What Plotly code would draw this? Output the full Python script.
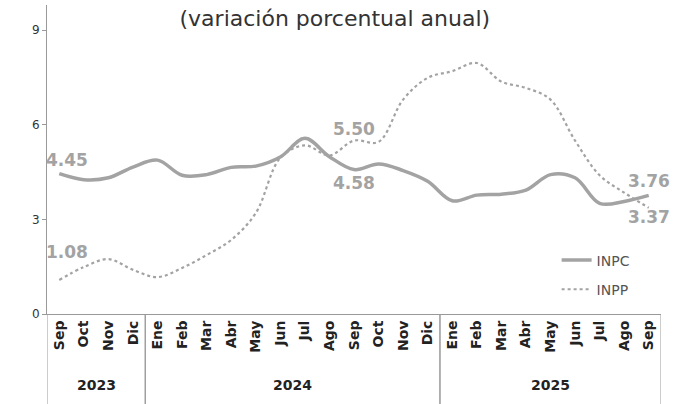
import plotly.graph_objects as go

years = ["2023"] * 4 + ["2024"] * 12 + ["2025"] * 9
months = ["Sep", "Oct", "Nov", "Dic",
          "Ene", "Feb", "Mar", "Abr", "May", "Jun", "Jul", "Ago", "Sep", "Oct", "Nov", "Dic",
          "Ene", "Feb", "Mar", "Abr", "May", "Jun", "Jul", "Ago", "Sep"]

inpc = [4.45, 4.26, 4.32, 4.66,
        4.88, 4.40, 4.42, 4.65, 4.69, 4.98, 5.57, 4.99, 4.58, 4.76, 4.55, 4.21,
        3.59, 3.77, 3.80, 3.93, 4.42, 4.32, 3.51, 3.57, 3.76]
inpp = [1.08, 1.49, 1.74, 1.40,
        1.17, 1.46, 1.87, 2.35, 3.20, 4.95, 5.35, 5.03, 5.50, 5.46, 6.80, 7.49,
        7.70, 7.96, 7.37, 7.17, 6.80, 5.50, 4.40, 3.85, 3.37]

# (series, index, y shift) for the labelled points
labels = [(inpc, 0, 14), (inpp, 0, 28), (inpp, 12, 12), (inpc, 12, -13), (inpc, 24, 14), (inpp, 24, -9)]

gray = "#a3a3a3"
axis_gray = "#999999"
font = "DejaVu Sans"
idx = list(range(len(months)))

fig = go.Figure()
fig.add_trace(go.Scatter(x=idx, y=inpc, name="INPC", mode="lines",
                         line=dict(color=gray, width=3.5, shape="spline"), legendgroup="a"))
fig.add_trace(go.Scatter(x=idx, y=inpp, name="INPP", mode="lines",
                         line=dict(color=gray, width=2.2, dash="dot", shape="spline"), legendgroup="b"))

for series, i, dy in labels:
    fig.add_annotation(x=i, y=series[i], xref="x", yref="y", text=f"{series[i]:.2f}",
                       showarrow=False, yshift=dy, xshift=8 if i == 0 else 0,
                       font=dict(family=font, size=17, color=gray, weight="bold"))

# year groups: labels and dividers under the month ticks
start = 0
for k in range(1, len(years) + 1):
    if k == len(years) or years[k] != years[start]:
        fig.add_annotation(x=(start + k - 1) / 2, y=-0.23, xref="x", yref="paper", yanchor="middle",
                           text=years[start], showarrow=False,
                           font=dict(family=font, size=14, color="#222222", weight="bold"))
        for edge in (start - 0.5, k - 0.5):
            fig.add_shape(type="line", x0=edge, x1=edge, y0=0, y1=-0.3, xref="x", yref="paper",
                          line=dict(color=axis_gray, width=1))
        start = k

fig.update_layout(
    width=675, height=404,
    margin=dict(l=47, r=14, t=5, b=90),
    plot_bgcolor="white", paper_bgcolor="white",
    font=dict(family=font, color="#333333"),
    title=dict(text="(variación porcentual anual)", x=0.496, xanchor="center",
               y=0.955, yanchor="middle", font=dict(size=22, color="#333333")),
    legend=dict(x=0.83, y=0.225, xanchor="left", yanchor="top", bgcolor="rgba(0,0,0,0)",
                font=dict(size=14, color="#555555"), tracegroupgap=8, traceorder="grouped"),
    xaxis=dict(range=[-0.5, len(months) - 0.5], tickvals=idx, ticktext=months, tickangle=-90,
               showline=True, linecolor=axis_gray, showgrid=False, zeroline=False, ticks="",
               tickfont=dict(size=14, color="#222222", weight="bold")),
    yaxis=dict(range=[0, 9.8], tickvals=[0, 3, 6, 9], showline=True, linecolor=axis_gray,
               ticks="outside", ticklen=4, tickcolor=axis_gray, showgrid=False, zeroline=False,
               tickfont=dict(size=12, color="#333333")),
)

fig.write_html("out.html", config={"displayModeBar": False},
               post_script="document.body.style.margin='0';")
